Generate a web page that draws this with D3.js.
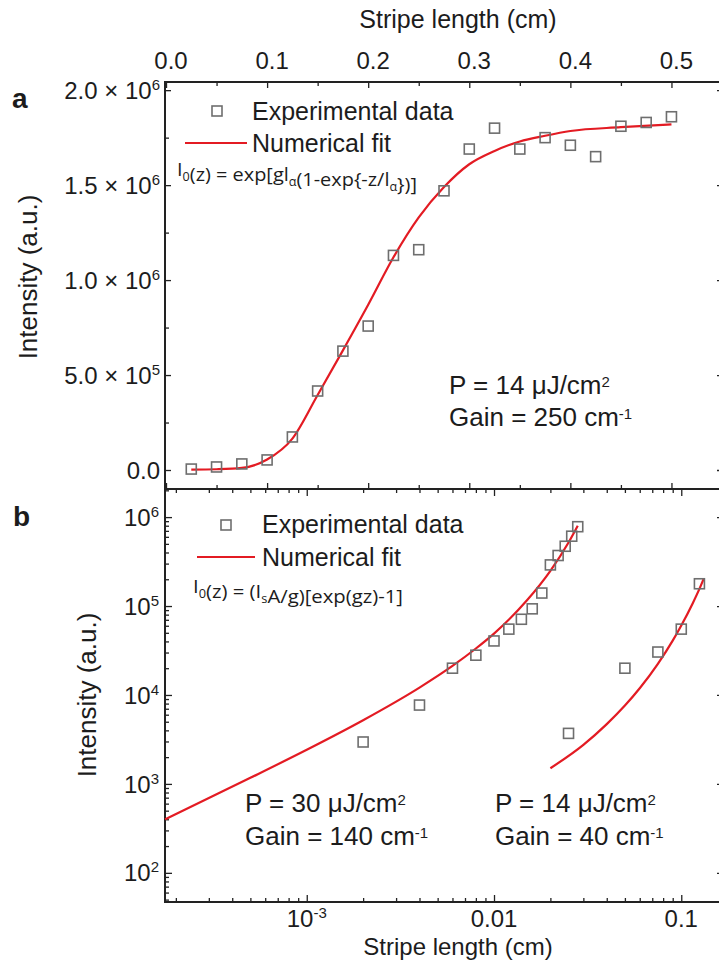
<!DOCTYPE html>
<html><head><meta charset="utf-8">
<script src="https://cdn.jsdelivr.net/npm/d3@7"></script>
<style>
body{margin:0;background:#fff}
svg{display:block}
text{font-family:"Liberation Sans",Arial,Helvetica,sans-serif;fill:#1c1c1c}
.formula{font-family:"Open Sans","Noto Sans",sans-serif}
</style>
</head><body>
<svg id="chart" width="719" height="960"></svg>
<script>
// ---- Panel a: linear stripe length scan ----
const aTicks = [0, 0.1, 0.2, 0.3, 0.4, 0.5];
const aMinorTicks = [0.05, 0.15, 0.25, 0.35, 0.45, 0.55];
const aYTicks = [0, 5e5, 1e6, 1.5e6, 2e6];
const aYTickMantissa = ["0.0", "5.0", "1.0", "1.5", "2.0"];
const aYTickExponent = ["", "5", "6", "6", "6"];
const aYMinorTicks = [2.5e5, 7.5e5, 1.25e6, 1.75e6];

const aLength = [0.025, 0.05, 0.075, 0.1, 0.125, 0.15, 0.175, 0.2, 0.225, 0.25,
                 0.275, 0.3, 0.325, 0.35, 0.375, 0.4, 0.425, 0.45, 0.475, 0.5];
const aIntensity = [5e3, 1.6e4, 3.2e4, 5.3e4, 1.74e5, 4.16e5, 6.26e5, 7.58e5, 1.13e6, 1.16e6,
                    1.47e6, 1.69e6, 1.8e6, 1.69e6, 1.75e6, 1.71e6, 1.65e6, 1.81e6, 1.83e6, 1.86e6];
const aFitLength = [0.025, 0.05, 0.075, 0.1, 0.125, 0.15, 0.175, 0.2, 0.225, 0.25,
                    0.275, 0.3, 0.325, 0.35, 0.375, 0.4, 0.45, 0.5];
const aFitIntensity = [2e3, 4e3, 1.1e4, 5.5e4, 1.65e5, 3.95e5, 6.3e5, 8.7e5, 1.12e6, 1.33e6,
                       1.49e6, 1.61e6, 1.68e6, 1.73e6, 1.76e6, 1.785e6, 1.805e6, 1.82e6];

// ---- Panel b: log-log stripe length scan ----
const bXTicks = [1e-3, 1e-2, 1e-1];
const bXLabels = ["10", "0.01", "0.1"];
const bYTicks = [1e2, 1e3, 1e4, 1e5, 1e6];
const b30Length = [0.002, 0.004, 0.006, 0.008, 0.010, 0.012, 0.014, 0.016, 0.018, 0.020,
                   0.022, 0.024, 0.026, 0.028];
const b30Intensity = [2.96e3, 7.7e3, 2.0e4, 2.8e4, 4.05e4, 5.5e4, 7.1e4, 9.3e4, 1.4e5, 2.9e5,
                      3.7e5, 4.7e5, 6.1e5, 7.8e5];
const b30FitLength = [1.75e-4, 5e-4, 1e-3, 2e-3, 4e-3, 6e-3, 8e-3, 0.01, 0.015, 0.02, 0.025, 0.028];
const b30FitIntensity = [400, 1170, 2420, 5200, 1.21e4, 2.12e4, 3.33e4, 4.9e4, 1.16e5, 2.49e5, 5.18e5, 8.0e5];
const b14Length = [0.025, 0.05, 0.075, 0.1, 0.125];
const b14Intensity = [3.7e3, 2.0e4, 3.04e4, 5.5e4, 1.78e5];
const b14FitLength = [0.02, 0.03, 0.04, 0.05, 0.06, 0.075, 0.09, 0.1, 0.115, 0.125, 0.132];
const b14FitIntensity = [1.5e3, 2.75e3, 4.7e3, 7.6e3, 1.19e4, 2.24e4, 4.08e4, 6.04e4, 1.07e5, 1.56e5, 2.05e5];

const RED = "#e31b23";
const GREY = "#6e6e6e";
const svg = d3.select("#chart");

const L = 165, R = 722, A_TOP = 82, MID = 489, B_BOT = 902;

const xA = d3.scaleLinear().domain([-0.001, 0.55]).range([L, R]);
const yA = d3.scaleLinear().domain([-1.0e5, 2.043e6]).range([MID, A_TOP]);
const xB = d3.scaleLog().domain([1.75e-4, 0.165]).range([L, R]);
const yB = d3.scaleLog().domain([47, 2.07e6]).range([B_BOT, MID]);

function tickAxis(gen, scale, values, size, transform) {
  const g = svg.append("g").attr("transform", transform)
    .call(gen(scale).tickValues(values).tickSizeInner(size).tickSizeOuter(0).tickFormat(""));
  g.select(".domain").remove();
  g.selectAll("line").attr("stroke", "#222").attr("stroke-width", 1.3);
  return g;
}

// log minor tick values 2..9 per decade inside a domain
function logMinor(scale) {
  const [d0, d1] = scale.domain();
  const out = [];
  for (let e = Math.floor(Math.log10(d0)); e <= Math.ceil(Math.log10(d1)); e++) {
    for (let m = 2; m <= 9; m++) {
      const v = m * Math.pow(10, e);
      if (v >= d0 && v <= d1) out.push(v);
    }
  }
  return out;
}

// ---------- Panel a ticks ----------
tickAxis(d3.axisTop, xA, aTicks, -6, `translate(0,${A_TOP})`);
tickAxis(d3.axisTop, xA, aMinorTicks, -4, `translate(0,${A_TOP})`);
tickAxis(d3.axisBottom, xA, aTicks, -6, `translate(0,${MID})`);
tickAxis(d3.axisBottom, xA, aMinorTicks, -4, `translate(0,${MID})`);
tickAxis(d3.axisLeft, yA, aYTicks, -6, `translate(${L},0)`);
tickAxis(d3.axisLeft, yA, aYMinorTicks, -4, `translate(${L},0)`);
tickAxis(d3.axisRight, yA, aYTicks, -5, `translate(${R},0)`);

// ---------- Panel b ticks ----------
tickAxis(d3.axisTop, xB, bXTicks, -7, `translate(0,${MID})`);
tickAxis(d3.axisTop, xB, logMinor(xB), -4, `translate(0,${MID})`);
tickAxis(d3.axisBottom, xB, bXTicks, -7, `translate(0,${B_BOT})`);
tickAxis(d3.axisBottom, xB, logMinor(xB), -4, `translate(0,${B_BOT})`);
tickAxis(d3.axisLeft, yB, bYTicks, -7, `translate(${L},0)`);
tickAxis(d3.axisLeft, yB, logMinor(yB), -4, `translate(${L},0)`);
tickAxis(d3.axisRight, yB, bYTicks, -5, `translate(${R},0)`);

// frames
svg.append("rect").attr("x", L).attr("y", A_TOP).attr("width", R - L).attr("height", MID - A_TOP)
  .attr("fill", "none").attr("stroke", "#222").attr("stroke-width", 2);
svg.append("rect").attr("x", L).attr("y", MID).attr("width", R - L).attr("height", B_BOT - MID)
  .attr("fill", "none").attr("stroke", "#222").attr("stroke-width", 2);

// ---------- tick labels ----------
const TICK_FS = 24, SUP_FS = 15;
svg.append("g").selectAll("text").data(aTicks).join("text")
  .attr("x", d => xA(d) + 5).attr("y", 69).attr("text-anchor", "middle")
  .attr("font-size", TICK_FS).text(d => d.toFixed(1));

svg.append("g").selectAll("text").data(aYTicks).join("text")
  .attr("x", 160).attr("y", d => yA(d)).attr("dy", "0.36em").attr("text-anchor", "end")
  .attr("font-size", TICK_FS)
  .each(function (d, i) {
    const t = d3.select(this);
    t.append("tspan").text(aYTickMantissa[i]);
    if (aYTickExponent[i]) {
      t.append("tspan").text(" \u00d7 10");
      t.append("tspan").attr("dy", "-0.6em").attr("font-size", SUP_FS).text(aYTickExponent[i]);
    }
  });

svg.append("g").selectAll("text").data(bYTicks).join("text")
  .attr("x", 159).attr("y", d => yB(d)).attr("dy", "0.36em").attr("text-anchor", "end")
  .attr("font-size", TICK_FS)
  .each(function (d) {
    const t = d3.select(this);
    t.append("tspan").text("10");
    t.append("tspan").attr("dy", "-0.6em").attr("font-size", SUP_FS).text(Math.round(Math.log10(d)));
  });

svg.append("g").selectAll("text").data(bXTicks).join("text")
  .attr("x", d => xB(d)).attr("y", 927).attr("text-anchor", "middle").attr("font-size", TICK_FS)
  .each(function (d, i) {
    const t = d3.select(this);
    t.append("tspan").text(bXLabels[i]);
    if (i === 0) t.append("tspan").attr("dy", "-0.6em").attr("font-size", SUP_FS).text("-3");
  });

// axis titles
svg.append("text").attr("x", 458).attr("y", 28).attr("text-anchor", "middle")
  .attr("font-size", 25).text("Stripe length (cm)");
svg.append("text").attr("x", 458).attr("y", 955).attr("text-anchor", "middle")
  .attr("font-size", 24).text("Stripe length (cm)");
svg.append("text").attr("transform", "translate(37,277) rotate(-90)").attr("text-anchor", "middle")
  .attr("font-size", 26).text("Intensity (a.u.)");
svg.append("text").attr("transform", "translate(96,695) rotate(-90)").attr("text-anchor", "middle")
  .attr("font-size", 26).text("Intensity (a.u.)");

// panel letters
svg.append("text").attr("x", 12).attr("y", 108).attr("font-size", 28).attr("font-weight", "bold").text("a");
svg.append("text").attr("x", 13).attr("y", 526).attr("font-size", 28).attr("font-weight", "bold").text("b");

// ---------- marks ----------
const SQ = 10;
function squares(xs, ys, xScale, yScale) {
  svg.append("g").selectAll("rect").data(xs).join("rect")
    .attr("x", d => xScale(d) - SQ / 2).attr("y", (d, i) => yScale(ys[i]) - SQ / 2)
    .attr("width", SQ).attr("height", SQ)
    .attr("fill", "none").attr("stroke", GREY).attr("stroke-width", 1.6);
}
function fitLine(xs, ys, xScale, yScale) {
  const line = d3.line().x(d => xScale(d[0])).y(d => yScale(d[1])).curve(d3.curveMonotoneX);
  svg.append("path").datum(xs.map((d, i) => [d, ys[i]])).attr("d", line)
    .attr("fill", "none").attr("stroke", RED).attr("stroke-width", 2.2);
}

fitLine(aFitLength, aFitIntensity, xA, yA);
squares(aLength, aIntensity, xA, yA);
fitLine(b30FitLength, b30FitIntensity, xB, yB);
squares(b30Length, b30Intensity, xB, yB);
fitLine(b14FitLength, b14FitIntensity, xB, yB);
squares(b14Length, b14Intensity, xB, yB);

// ---------- legends ----------
const LEG_FS = 25;
function legend(sqX, sqY, textX, text1Y, lineX0, lineX1, lineY, text2Y) {
  svg.append("rect").attr("x", sqX - SQ / 2).attr("y", sqY - SQ / 2).attr("width", SQ).attr("height", SQ)
    .attr("fill", "none").attr("stroke", GREY).attr("stroke-width", 1.6);
  svg.append("text").attr("x", textX).attr("y", text1Y).attr("font-size", LEG_FS).text("Experimental data");
  svg.append("line").attr("x1", lineX0).attr("x2", lineX1).attr("y1", lineY).attr("y2", lineY)
    .attr("stroke", RED).attr("stroke-width", 2.2);
  svg.append("text").attr("x", textX).attr("y", text2Y).attr("font-size", LEG_FS).text("Numerical fit");
}
legend(217, 111, 252, 120, 185, 247, 143, 152);
legend(226, 525, 262, 533, 197, 255, 557, 566);

// formula text; parts given as plain strings or {sub: "..."} for subscripts
function formula(x, y, width, parts) {
  const t = svg.append("text").attr("class", "formula").attr("x", x).attr("y", y)
    .attr("font-size", 19).attr("textLength", width).attr("lengthAdjust", "spacingAndGlyphs");
  parts.forEach(p => {
    if (typeof p === "object") {
      t.append("tspan").attr("dy", 5).attr("font-size", 12).text(p.sub);
      t.append("tspan").attr("dy", -5).text("");
    } else {
      t.append("tspan").text(p);
    }
  });
}
formula(177, 176, 240, ["I", {sub: "0"}, "(z) = exp[gl", {sub: "\u03b1"}, "(1-exp{-z/l", {sub: "\u03b1"}, "})]"]);
formula(193, 593, 210, ["I", {sub: "0"}, "(z) = (I", {sub: "s"}, "A/g)[exp(gz)-1]"]);

// ---------- annotations ----------
const NOTE_FS = 26;
function note(x, y, main, sup) {
  const t = svg.append("text").attr("x", x).attr("y", y).attr("font-size", NOTE_FS);
  t.append("tspan").text(main);
  t.append("tspan").attr("dy", "-0.5em").attr("font-size", 15).text(sup);
}
note(449, 394, "P = 14 \u03bcJ/cm", "2");
note(449, 426, "Gain = 250 cm", "-1");
note(245, 812, "P = 30 \u03bcJ/cm", "2");
note(245, 845, "Gain = 140 cm", "-1");
note(495, 812, "P = 14 \u03bcJ/cm", "2");
note(495, 845, "Gain = 40 cm", "-1");
</script>
</body></html>
